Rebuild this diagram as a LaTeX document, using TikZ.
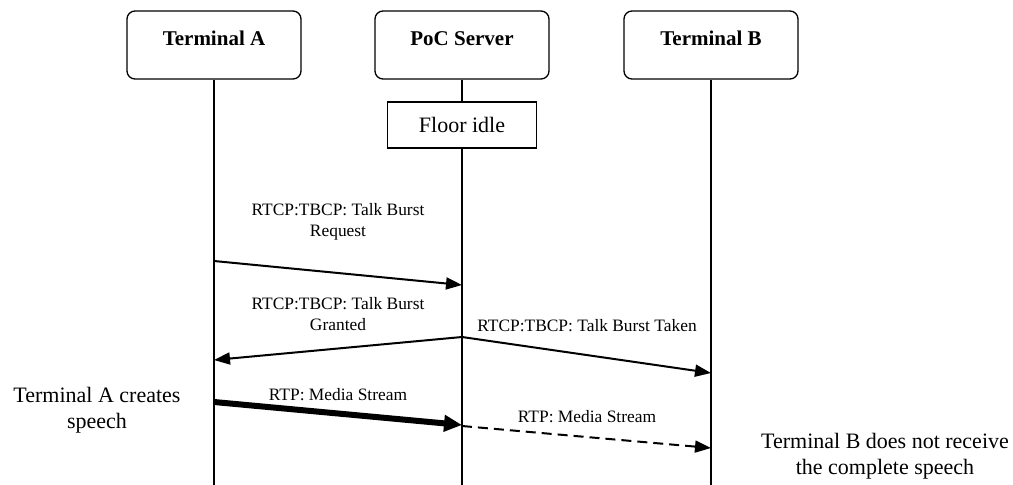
\documentclass[tikz,border=0pt]{standalone}
\usepackage{fontspec}
\setmainfont{Liberation Serif}
\usetikzlibrary{arrows.meta}
\tikzset{
  entity/.style={draw, line width=1.3pt, rounded corners=8pt, minimum width=174pt, minimum height=68pt,
    text height=10pt, text depth=10pt, font=\fontsize{21}{25}\selectfont\bfseries},
  statebox/.style={draw, fill=white, line width=1.1pt, minimum width=149pt, minimum height=46pt,
    font=\fontsize{22}{26}\selectfont},
  msg/.style={line width=2pt, -{Triangle[length=16pt,width=12pt]}},
  msglabel/.style={align=center, font=\fontsize{17.4}{21}\selectfont},
  note/.style={align=center, font=\fontsize{22}{26}\selectfont}
}
\begin{document}
\begin{tikzpicture}[x=1pt,y=-1pt]
\useasboundingbox (0,0) rectangle (1013,485);
\node[entity] (termA) at (214,45) {Terminal A};
\node[entity] (server) at (462,45) {PoC Server};
\node[entity] (termB) at (711,45) {Terminal B};
\coordinate (endA) at (214,485);
\coordinate (endS) at (462,485);
\coordinate (endB) at (711,485);
\draw[line width=1.3pt] (termA.south) -- (endA);
\draw[line width=1.3pt] (server.south) -- (endS);
\draw[line width=1.3pt] (termB.south) -- (endB);
\node[statebox] (idle) at (462,125) {Floor idle};
\coordinate (a1) at (214,261);
\coordinate (s1) at (462,285);
\coordinate (s2) at (462,337);
\coordinate (a2) at (214,360);
\coordinate (b2) at (711,373);
\coordinate (a3) at (214,402);
\coordinate (s3) at (462,425);
\coordinate (s4) at (462,426);
\coordinate (b4) at (711,448);
\draw[msg] (a1) -- (s1);
\draw[msg] (s2) -- (a2);
\draw[msg] (s2) -- (b2);
\draw[line width=6pt, -{Triangle[length=18pt,width=16pt]}] (a3) -- (s3);
\draw[msg, dash pattern=on 10pt off 6pt] (s4) -- (b4);
\node[msglabel] (reqlabel) at (338,222) {RTCP:TBCP: Talk Burst\\Request};
\node[msglabel] (grantlabel) at (338,314) {RTCP:TBCP: Talk Burst\\Granted};
\node[msglabel] (takenlabel) at (587,326) {RTCP:TBCP: Talk Burst Taken};
\node[msglabel] (medialabelA) at (338,395) {RTP: Media Stream};
\node[msglabel] (medialabelB) at (587,417) {RTP: Media Stream};
\node[note] (speechA) at (97,410) {Terminal A creates\\speech};
\node[note] (speechB) at (885,456) {Terminal B does not receive\\the complete speech};
\end{tikzpicture}
\end{document}
